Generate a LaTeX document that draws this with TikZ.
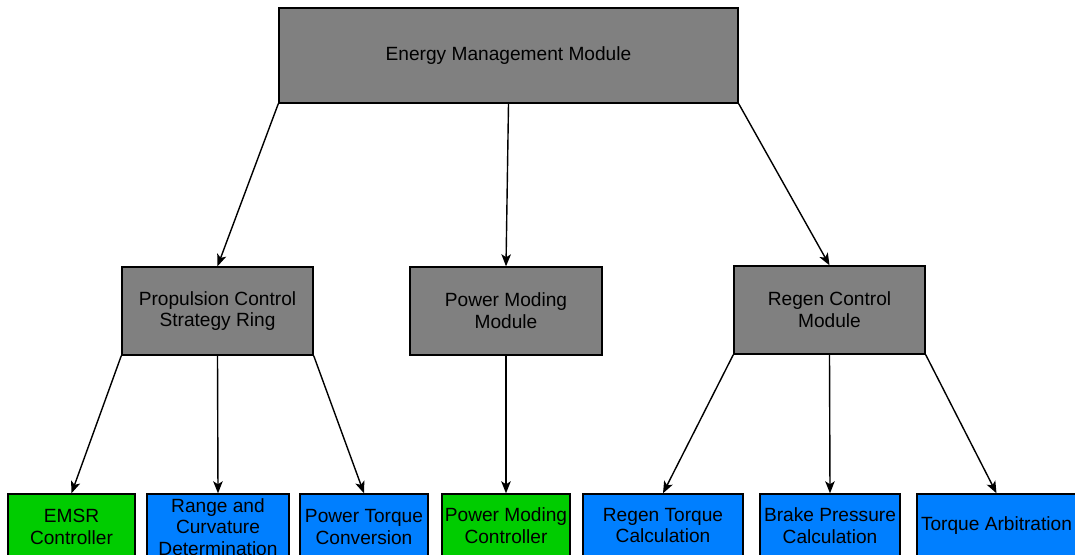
\documentclass[tikz,border=0pt]{standalone}
\usepackage{fontspec}
\setmainfont{Liberation Sans}
\usetikzlibrary{arrows.meta}
\definecolor{modgray}{HTML}{808080}
\definecolor{subblue}{HTML}{007FFF}
\definecolor{subgreen}{HTML}{00CC00}

\begin{document}
\begin{tikzpicture}[>={Stealth[length=12bp,width=9.5bp,inset=3bp]},line width=1.4bp]
 \tikzstyle{box}=[draw=black,inner sep=0pt,align=center,font=\fontsize{19.2}{21.8}\selectfont]
 \tikzstyle{module}=[box,fill=modgray,minimum height=88bp]
 \tikzstyle{leaf}=[box,fill=subblue]
 \tikzstyle{ctrl}=[box,fill=subgreen]
 \useasboundingbox (0bp,0bp) rectangle (1075bp,-555bp);
 \clip (0bp,0bp) rectangle (1075bp,-555bp);

 \node (ems) at (508.5bp,-55.5bp) [module,minimum width=459bp,minimum height=95bp] {Energy Management Module};

 \node (pcs) at (217.5bp,-311bp) [module,minimum width=191bp] {Propulsion Control\\Strategy Ring};
 \node (pmm) at (506bp,-311bp) [module,minimum width=192bp] {Power Moding\\Module};
 \node (rcm) at (829.5bp,-310bp) [module,minimum width=191bp] {Regen Control\\Module};

 % leaves below propulsion, boxes run past the lower edge
 \node (emsr) at (71.5bp,-527bp) [ctrl,minimum width=127bp,minimum height=66bp] {EMSR\\Controller};
 \node (rcd) at (218bp,-527bp) [leaf,minimum width=142bp,minimum height=66bp] {Range and\\Curvature\\Determination};
 \node (ptc) at (364bp,-527bp) [leaf,minimum width=128bp,minimum height=66bp] {Power Torque\\Conversion};

 \node (pmc) at (506bp,-525.5bp) [ctrl,minimum width=128bp,minimum height=63bp] {Power Moding\\Controller};

 \node (rtc) at (663bp,-525.5bp) [leaf,minimum width=160bp,minimum height=63bp] {Regen Torque\\Calculation};
 \node (bpc) at (830bp,-525.5bp) [leaf,minimum width=140bp,minimum height=63bp] {Brake Pressure\\Calculation};
 \node (tab) at (996.5bp,-525.5bp) [leaf,minimum width=159bp,minimum height=63bp] {Torque Arbitration};

 \draw [->] (ems.south west) -- (pcs.north);
 \draw [->] (ems.south) -- (pmm.north);
 \draw [->] (ems.south east) -- (rcm.north);

 \draw [->] (pcs.south west) -- (emsr.north);
 \draw [->] (pcs.south) -- (rcd.north);
 \draw [->] (pcs.south east) -- (ptc.north);

 \draw [->] (pmm.south) -- (pmc.north);

 \draw [->] (rcm.south west) -- (rtc.north);
 \draw [->] (rcm.south) -- (bpc.north);
 \draw [->] (rcm.south east) -- (tab.north);
\end{tikzpicture}
\end{document}
